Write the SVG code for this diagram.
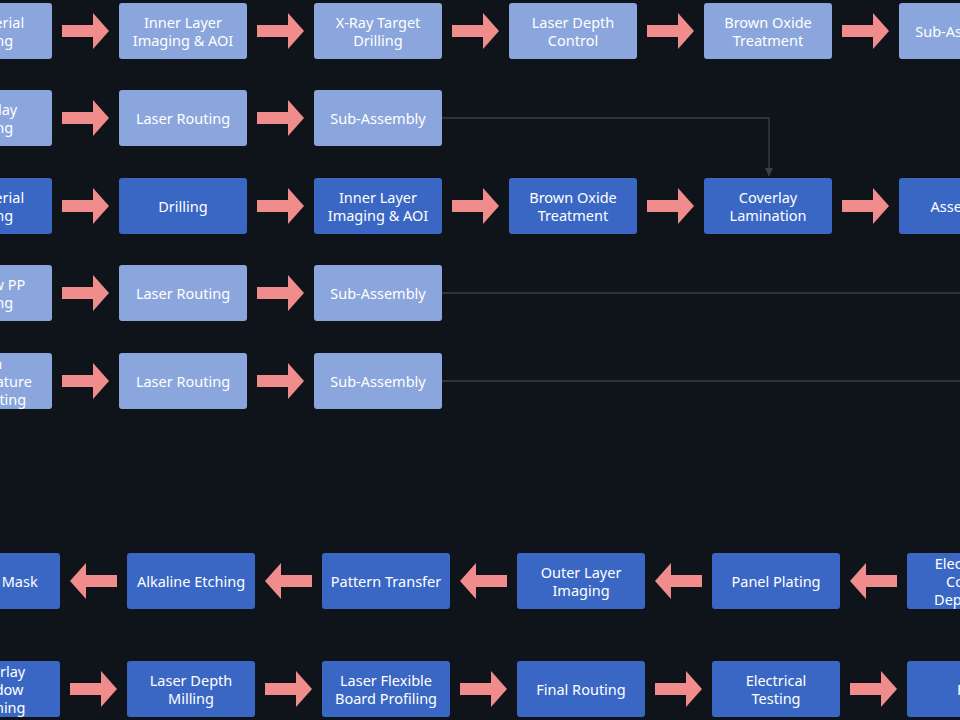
<svg xmlns="http://www.w3.org/2000/svg" width="960" height="720" viewBox="0 0 960 720">
<defs>
<style>
.l{fill:#8aa6dc}.d{fill:#3a67c4}
text{font-family:"Noto Sans","Open Sans",sans-serif;font-size:14.5px;fill:#fff;text-anchor:middle}
.c{stroke:#3c3f44;stroke-width:1.3;fill:none}
</style>
<path id="ar" d="M0,-6 H31 V-18 L47,0 L31,18 V6 H0 Z" fill="#f08c8c"/>
<marker id="mh" markerWidth="10" markerHeight="10" refX="8" refY="5" orient="auto" markerUnits="userSpaceOnUse"><path d="M0,1 L8,5 L0,9 Z" fill="#3c3f44"/></marker>
</defs>
<rect width="960" height="720" fill="#0f141a"/>
<g id="connectors">
<path class="c" d="M442,118 H769 V176" marker-end="url(#mh)"/>
<path class="c" d="M442,293 H960"/>
<path class="c" d="M442,381 H960"/>
<use href="#ar" transform="translate(62,31)"/><use href="#ar" transform="translate(257,31)"/><use href="#ar" transform="translate(452,31)"/><use href="#ar" transform="translate(647,31)"/><use href="#ar" transform="translate(842,31)"/>
<use href="#ar" transform="translate(62,118)"/><use href="#ar" transform="translate(257,118)"/>
<use href="#ar" transform="translate(62,206)"/><use href="#ar" transform="translate(257,206)"/><use href="#ar" transform="translate(452,206)"/><use href="#ar" transform="translate(647,206)"/><use href="#ar" transform="translate(842,206)"/>
<use href="#ar" transform="translate(62,293)"/><use href="#ar" transform="translate(257,293)"/>
<use href="#ar" transform="translate(62,381)"/><use href="#ar" transform="translate(257,381)"/>
<use href="#ar" transform="translate(117,581) scale(-1,1)"/><use href="#ar" transform="translate(312,581) scale(-1,1)"/><use href="#ar" transform="translate(507,581) scale(-1,1)"/><use href="#ar" transform="translate(702,581) scale(-1,1)"/><use href="#ar" transform="translate(897,581) scale(-1,1)"/>
<use href="#ar" transform="translate(70,689)"/><use href="#ar" transform="translate(265,689)"/><use href="#ar" transform="translate(460,689)"/><use href="#ar" transform="translate(655,689)"/><use href="#ar" transform="translate(850,689)"/>
</g>
<g id="r1c0"><rect class="l" x="-76" y="3" width="128" height="56" rx="3"/><text x="-4" y="28">Material</text><text x="-12" y="46">Cutting</text></g>
<g id="r1c1"><rect class="l" x="119" y="3" width="128" height="56" rx="3"/><text x="183" y="28">Inner Layer</text><text x="183" y="46">Imaging &amp; AOI</text></g>
<g id="r1c2"><rect class="l" x="314" y="3" width="128" height="56" rx="3"/><text x="378" y="28">X-Ray Target</text><text x="378" y="46">Drilling</text></g>
<g id="r1c3"><rect class="l" x="509" y="3" width="128" height="56" rx="3"/><text x="573" y="28">Laser Depth</text><text x="573" y="46">Control</text></g>
<g id="r1c4"><rect class="l" x="704" y="3" width="128" height="56" rx="3"/><text x="768" y="28">Brown Oxide</text><text x="768" y="46">Treatment</text></g>
<g id="r1c5"><rect class="l" x="899" y="3" width="128" height="56" rx="3"/><text x="963" y="37">Sub-Assembly</text></g>
<g id="r2c0"><rect class="l" x="-76" y="90" width="128" height="56" rx="3"/><text x="-12" y="115">Coverlay</text><text x="-12" y="133">Cutting</text></g>
<g id="r2c1"><rect class="l" x="119" y="90" width="128" height="56" rx="3"/><text x="183" y="124">Laser Routing</text></g>
<g id="r2c2"><rect class="l" x="314" y="90" width="128" height="56" rx="3"/><text x="378" y="124">Sub-Assembly</text></g>
<g id="r3c0"><rect class="d" x="-76" y="178" width="128" height="56" rx="3"/><text x="-4" y="203">Material</text><text x="-12" y="221">Cutting</text></g>
<g id="r3c1"><rect class="d" x="119" y="178" width="128" height="56" rx="3"/><text x="183" y="212">Drilling</text></g>
<g id="r3c2"><rect class="d" x="314" y="178" width="128" height="56" rx="3"/><text x="378" y="203">Inner Layer</text><text x="378" y="221">Imaging &amp; AOI</text></g>
<g id="r3c3"><rect class="d" x="509" y="178" width="128" height="56" rx="3"/><text x="573" y="203">Brown Oxide</text><text x="573" y="221">Treatment</text></g>
<g id="r3c4"><rect class="d" x="704" y="178" width="128" height="56" rx="3"/><text x="768" y="203">Coverlay</text><text x="768" y="221">Lamination</text></g>
<g id="r3c5"><rect class="d" x="899" y="178" width="128" height="56" rx="3"/><text x="963" y="212">Assembly</text></g>
<g id="r4c0"><rect class="l" x="-76" y="265" width="128" height="56" rx="3"/><text x="-12" y="290">No-flow PP</text><text x="-12" y="308">Cutting</text></g>
<g id="r4c1"><rect class="l" x="119" y="265" width="128" height="56" rx="3"/><text x="183" y="299">Laser Routing</text></g>
<g id="r4c2"><rect class="l" x="314" y="265" width="128" height="56" rx="3"/><text x="378" y="299">Sub-Assembly</text></g>
<g id="r5c0"><rect class="l" x="-76" y="353" width="128" height="56" rx="3"/><text x="-12" y="369">Skin</text><text x="-12" y="387">Temperature</text><text x="-12" y="405">Die Cutting</text></g>
<g id="r5c1"><rect class="l" x="119" y="353" width="128" height="56" rx="3"/><text x="183" y="387">Laser Routing</text></g>
<g id="r5c2"><rect class="l" x="314" y="353" width="128" height="56" rx="3"/><text x="378" y="387">Sub-Assembly</text></g>
<g id="b1c0"><rect class="d" x="-68" y="553" width="128" height="56" rx="3"/><text x="-4" y="587">Solder Mask</text></g>
<g id="b1c1"><rect class="d" x="127" y="553" width="128" height="56" rx="3"/><text x="191" y="587">Alkaline Etching</text></g>
<g id="b1c2"><rect class="d" x="322" y="553" width="128" height="56" rx="3"/><text x="386" y="587">Pattern Transfer</text></g>
<g id="b1c3"><rect class="d" x="517" y="553" width="128" height="56" rx="3"/><text x="581" y="578">Outer Layer</text><text x="581" y="596">Imaging</text></g>
<g id="b1c4"><rect class="d" x="712" y="553" width="128" height="56" rx="3"/><text x="776" y="587">Panel Plating</text></g>
<g id="b1c5"><rect class="d" x="907" y="553" width="128" height="56" rx="3"/><text x="971" y="569">Electroless</text><text x="971" y="587">Copper</text><text x="971" y="605">Deposition</text></g>
<g id="b2c0"><rect class="d" x="-68" y="661" width="128" height="56" rx="3"/><text x="-4" y="677">Coverlay</text><text x="-4" y="695">Window</text><text x="-4" y="713">Opening</text></g>
<g id="b2c1"><rect class="d" x="127" y="661" width="128" height="56" rx="3"/><text x="191" y="686">Laser Depth</text><text x="191" y="704">Milling</text></g>
<g id="b2c2"><rect class="d" x="322" y="661" width="128" height="56" rx="3"/><text x="386" y="686">Laser Flexible</text><text x="386" y="704">Board Profiling</text></g>
<g id="b2c3"><rect class="d" x="517" y="661" width="128" height="56" rx="3"/><text x="581" y="695">Final Routing</text></g>
<g id="b2c4"><rect class="d" x="712" y="661" width="128" height="56" rx="3"/><text x="776" y="686">Electrical</text><text x="776" y="704">Testing</text></g>
<g id="b2c5"><rect class="d" x="907" y="661" width="128" height="56" rx="3"/><text x="971" y="695">FQC</text></g>
</svg>
